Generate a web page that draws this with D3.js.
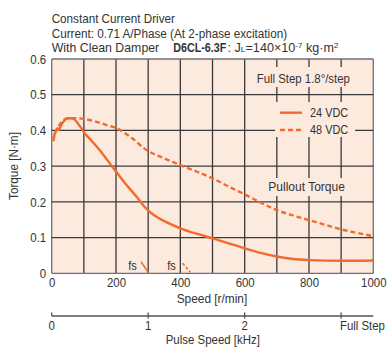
<!DOCTYPE html>
<html><head><meta charset="utf-8">
<script src="https://cdn.jsdelivr.net/npm/d3@7"></script>
<style>
html,body{margin:0;padding:0;background:#fff;}
svg{display:block;}
text{font-family:"Liberation Sans Narrow","Arial Narrow","Liberation Sans",Arial,sans-serif;fill:#333;}
</style>
</head><body>
<svg id="c" width="387" height="347"></svg>
<script>
// ---- data ----
const speedTickValues = [0, 200, 400, 600, 800, 1000];
const speedTickLabels = ["0", "200", "400", "600", "800", "1000"];
const speedGrid = [0, 100, 200, 300, 400, 500, 600, 700, 800, 900, 1000];
const torqueTicks = [0, 0.1, 0.2, 0.3, 0.4, 0.5, 0.6];
const torqueTickLabels = ["0", "0.1", "0.2", "0.3", "0.4", "0.5", "0.6"];
const pulseTicks = [0, 1, 2, 3];
const pulseTickLabels = ["0", "1", "2", "Full Step"];
const seriesNames = ["24 VDC", "48 VDC"];

const speed24  = [5, 10, 15, 18, 22, 28, 37, 45, 53, 62, 70, 80, 91, 102, 123, 150, 188, 230, 268, 285, 305, 350, 400, 450, 500, 550, 600, 650, 700, 750, 800, 900, 1000];
const torque24 = [0.378, 0.392, 0.402, 0.406, 0.401, 0.412, 0.425, 0.432, 0.434, 0.434, 0.431, 0.421, 0.408, 0.393, 0.372, 0.344, 0.299, 0.25, 0.21, 0.19, 0.172, 0.146, 0.126, 0.111, 0.098, 0.084, 0.07, 0.057, 0.047, 0.04, 0.037, 0.035, 0.036];

const speed48  = [5, 12, 20, 30, 40, 53, 75, 102, 140, 171, 204, 250, 295, 350, 400, 450, 500, 550, 600, 650, 700, 750, 800, 850, 900, 950, 1000];
const torque48 = [0.37, 0.395, 0.41, 0.423, 0.431, 0.434, 0.434, 0.432, 0.424, 0.415, 0.405, 0.378, 0.345, 0.322, 0.303, 0.285, 0.266, 0.243, 0.221, 0.198, 0.177, 0.162, 0.149, 0.136, 0.123, 0.113, 0.104];

const fsSpeed24 = [278, 301];
const fsTorque24 = [0.032, 0.002];
const fsSpeed48 = [407, 431];
const fsTorque48 = [0.028, 0.003];

// ---- setup ----
const svg = d3.select("#c");
const orange = "#f26a2c";
const bgCol = "#fdeadf";
const x = d3.scaleLinear().domain([0, 1000]).range([51.7, 373.3]);
const y = d3.scaleLinear().domain([0, 0.6]).range([273.3, 59]);
const pulse = d3.scaleLinear().domain([0, 1000 / 300]).range([51.7, 373.3]);

function fit(sel, left, width) {
  const bb = sel.node().getBBox();
  const sx = width / bb.width;
  sel.attr("transform", `translate(${left},0) scale(${sx},1) translate(${-bb.x},0)`);
  return sel;
}
function squeeze(sel, k) {
  sel.each(function () {
    const t = d3.select(this);
    const ax = +t.attr("x") || 0;
    t.attr("transform", `translate(${ax},0) scale(${k},1) translate(${-ax},0)`);
  });
}

// background
svg.append("rect").attr("x", x(0)).attr("y", y(0.6))
  .attr("width", x(1000) - x(0)).attr("height", y(0) - y(0.6)).attr("fill", bgCol);

// grid
const grid = svg.append("g");
grid.selectAll("line.v").data(speedGrid).join("line")
  .attr("x1", d => x(d)).attr("x2", d => x(d)).attr("y1", y(0)).attr("y2", y(0.6))
  .attr("stroke", (d, i) => (i === 0 || i === speedGrid.length - 1) ? "#707070" : "#3a3a3a")
  .attr("stroke-width", 1.3);
grid.selectAll("line.h").data(torqueTicks).join("line")
  .attr("y1", d => y(d)).attr("y2", d => y(d)).attr("x1", x(0)).attr("x2", x(1000))
  .attr("stroke", (d, i) => (i === 0 || i === torqueTicks.length - 1) ? "#707070" : "#3a3a3a")
  .attr("stroke-width", 1.3);

// halos behind annotation text
svg.append("rect").attr("x", 252).attr("y", 67).attr("width", 103).attr("height", 20).attr("fill", bgCol);
svg.append("rect").attr("x", 275).attr("y", 102).attr("width", 80).attr("height", 35).attr("fill", bgCol);
svg.append("rect").attr("x", 265).attr("y", 178).attr("width", 83).attr("height", 18).attr("fill", bgCol);

// curves
const line = d3.line().x(d => x(d[0])).y(d => y(d[1])).curve(d3.curveMonotoneX);
svg.append("path").datum(d3.zip(speed48, torque48)).attr("d", line)
  .attr("fill", "none").attr("stroke", orange).attr("stroke-width", 2.4)
  .attr("stroke-dasharray", "5,3");
svg.append("path").datum(d3.zip(speed24, torque24)).attr("d", line)
  .attr("fill", "none").attr("stroke", orange).attr("stroke-width", 2.4);

const lineStraight = d3.line().x(d => x(d[0])).y(d => y(d[1]));
svg.append("path").datum(d3.zip(fsSpeed24, fsTorque24)).attr("d", lineStraight)
  .attr("fill", "none").attr("stroke", orange).attr("stroke-width", 1.6);
svg.append("path").datum(d3.zip(fsSpeed48, fsTorque48)).attr("d", lineStraight)
  .attr("fill", "none").attr("stroke", orange).attr("stroke-width", 1.6).attr("stroke-dasharray", "3,2");

// fs labels
fit(svg.append("text").attr("x", 128).attr("y", 270).attr("font-size", 12.5).text("fs"), 128.3, 8.6);
fit(svg.append("text").attr("x", 167).attr("y", 270).attr("font-size", 12.5).text("fs"), 167.3, 8.6);

// axes
const tickFont = 13;
const yAxis = svg.append("g").attr("transform", `translate(${x(0)},0)`)
  .call(d3.axisLeft(y).tickValues(torqueTicks).tickSize(0).tickPadding(5.5)
    .tickFormat((d, i) => torqueTickLabels[i]));
yAxis.select(".domain").remove();
yAxis.selectAll("text").attr("font-size", tickFont).attr("fill", "#333")
  .style("font-family", '"Liberation Sans",Arial,sans-serif');
squeeze(yAxis.selectAll("text"), 0.88);

const xAxis = svg.append("g").attr("transform", `translate(0,${y(0)})`)
  .call(d3.axisBottom(x).tickValues(speedTickValues).tickSize(0).tickPadding(4)
    .tickFormat((d, i) => speedTickLabels[i]));
xAxis.select(".domain").remove();
xAxis.selectAll("text").attr("font-size", tickFont).attr("fill", "#333")
  .style("font-family", '"Liberation Sans",Arial,sans-serif');
squeeze(xAxis.selectAll("text"), 0.88);

// pulse axis
const pAxisY = 316;
svg.append("line").attr("x1", pulse(0)).attr("x2", x(1000)).attr("y1", pAxisY).attr("y2", pAxisY)
  .attr("stroke", "#555").attr("stroke-width", 1.3);
svg.selectAll("line.pt").data(pulseTicks).join("line")
  .attr("x1", d => pulse(d)).attr("x2", d => pulse(d))
  .attr("y1", pAxisY - 3.5).attr("y2", (d, i) => i === 0 ? pAxisY : pAxisY + 2.5)
  .attr("stroke", "#555").attr("stroke-width", 1.3);
const pl = svg.selectAll("text.pl").data(pulseTicks).join("text")
  .attr("x", d => pulse(d))
  .attr("y", 330)
  .attr("text-anchor", (d, i) => i === pulseTicks.length - 1 ? "start" : "middle")
  .attr("font-size", tickFont)
  .text((d, i) => pulseTickLabels[i]);
pl.each(function (d, i) {
  const t = d3.select(this);
  if (i === pulseTicks.length - 1) fit(t, 340, 45);
  else squeeze(t, 0.88);
});

// axis titles
fit(svg.append("text").attr("x", 176).attr("y", 303.5).attr("font-size", 12.5).text("Speed [r/min]"), 176.7, 70.6);
fit(svg.append("text").attr("x", 165).attr("y", 344).attr("font-size", 12.5).text("Pulse Speed [kHz]"), 165.7, 94.3);
const yt = svg.append("g").attr("transform", "translate(17.8,166) rotate(-90)")
  .append("text").attr("x", 0).attr("y", 0).attr("font-size", 12.5).text("Torque [N·m]");
fit(yt, -34, 68);

// header lines
const hFont = 12;
fit(svg.append("text").attr("x", 52).attr("y", 22.6).attr("font-size", hFont).text("Constant Current Driver"), 51.7, 123.3);
fit(svg.append("text").attr("x", 52).attr("y", 37.7).attr("font-size", hFont).text("Current: 0.71 A/Phase (At 2-phase excitation)"), 51.7, 235.6);
fit(svg.append("text").attr("x", 52).attr("y", 52.4).attr("font-size", hFont).text("With Clean Damper"), 51.7, 107.6);
fit(svg.append("text").attr("x", 173).attr("y", 52.4).attr("font-size", 12.5).attr("font-weight", "bold")
  .style("font-family", '"Liberation Sans","Arial",sans-serif').text("D6CL-6.3F"), 173.3, 53.4);
const t3 = svg.append("text").attr("x", 227).attr("y", 52.4).attr("font-size", hFont);
t3.append("tspan").text(": J");
t3.append("tspan").attr("font-size", 8).text("L");
t3.append("tspan").text("=140×10");
t3.append("tspan").attr("font-size", 7.5).attr("dy", -4.5).text("-7");
t3.append("tspan").attr("dy", 4.5).text(" kg·m");
t3.append("tspan").attr("font-size", 7.5).attr("dy", -4.5).text("2");
fit(t3, 227.5, 111);

// annotations
fit(svg.append("text").attr("x", 257).attr("y", 83).attr("font-size", 12.5).text("Full Step 1.8°/step"), 256.7, 93.3);
fit(svg.append("text").attr("x", 268).attr("y", 191.5).attr("font-size", 12.5).text("Pullout Torque"), 268.3, 76.7);

// legend
const legY = [112.7, 130];
const legend = svg.append("g");
seriesNames.forEach((name, i) => {
  legend.append("line").attr("x1", 280).attr("x2", 302).attr("y1", legY[i]).attr("y2", legY[i])
    .attr("stroke", orange).attr("stroke-width", 2.4)
    .attr("stroke-dasharray", i === 1 ? "5,3" : null);
  fit(legend.append("text").attr("x", 310).attr("y", legY[i] + 4.5).attr("font-size", 12.5).text(name), 310, 38.3);
});
</script>
</body></html>
